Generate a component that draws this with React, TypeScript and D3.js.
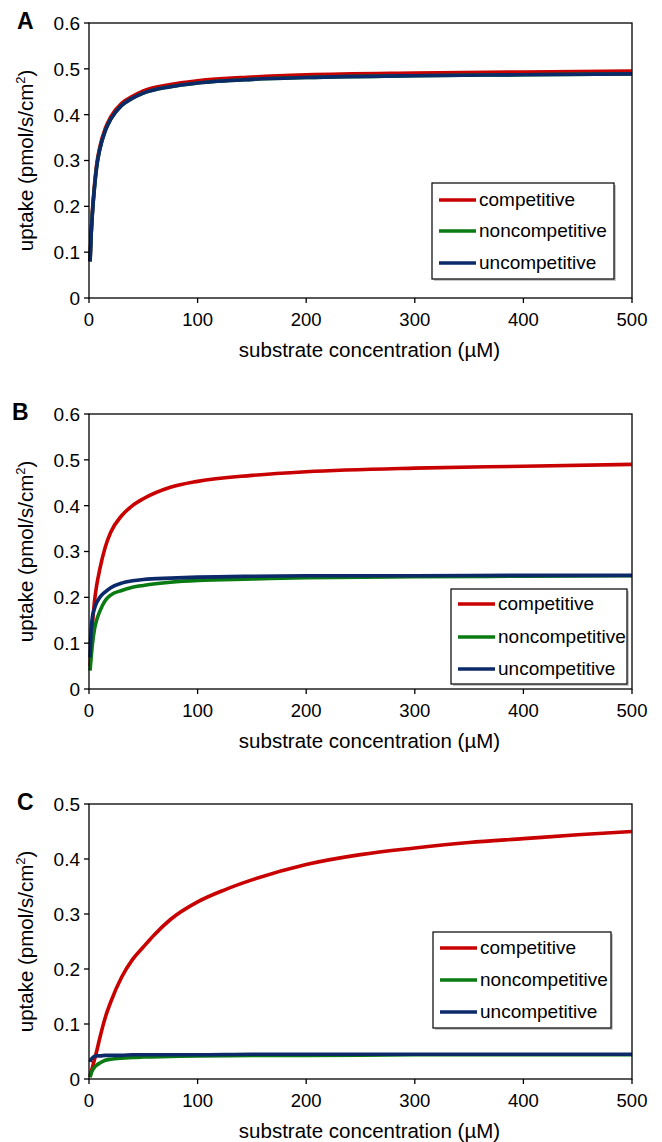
import React from "react";
import * as d3 from "d3";

const seriesNames = ["competitive", "noncompetitive", "uncompetitive"];
const seriesColors = ["#C80000", "#0A7A12", "#0C2A6A"];
const xTicks = [0, 100, 200, 300, 400, 500];

const xA = [1, 2, 3, 5, 7, 10, 15, 20, 30, 40, 50, 75, 100, 150, 200, 300, 400, 500];
const compA = [0.08, 0.14, 0.185, 0.245, 0.29, 0.33, 0.37, 0.395, 0.425, 0.44, 0.452, 0.466, 0.474, 0.482, 0.487, 0.491, 0.493, 0.495];
const nonA = [0.08, 0.138, 0.18, 0.24, 0.285, 0.325, 0.365, 0.39, 0.42, 0.436, 0.447, 0.461, 0.469, 0.477, 0.481, 0.485, 0.487, 0.489];
const uncA = [0.08, 0.14, 0.18, 0.24, 0.285, 0.325, 0.365, 0.39, 0.42, 0.436, 0.447, 0.461, 0.469, 0.477, 0.481, 0.485, 0.487, 0.489];

const xB = [1, 2, 3, 5, 7, 10, 15, 20, 30, 40, 50, 75, 100, 150, 200, 300, 400, 500];
const compB = [0.05, 0.095, 0.135, 0.19, 0.225, 0.262, 0.31, 0.342, 0.378, 0.4, 0.415, 0.44, 0.453, 0.466, 0.474, 0.482, 0.486, 0.49];
const nonB = [0.04, 0.07, 0.095, 0.13, 0.15, 0.17, 0.193, 0.205, 0.215, 0.222, 0.226, 0.233, 0.237, 0.24, 0.243, 0.245, 0.246, 0.247];
const uncB = [0.069, 0.13, 0.155, 0.175, 0.188, 0.2, 0.212, 0.221, 0.231, 0.236, 0.239, 0.242, 0.244, 0.246, 0.247, 0.247, 0.248, 0.248];

const xCcomp = [1, 3, 5, 7, 10, 15, 20, 30, 40, 50, 60, 75, 100, 125, 150, 200, 250, 300, 350, 400, 450, 500];
const compC = [0.005, 0.02, 0.035, 0.05, 0.075, 0.112, 0.14, 0.185, 0.217, 0.24, 0.262, 0.29, 0.322, 0.344, 0.362, 0.39, 0.408, 0.42, 0.43, 0.437, 0.444, 0.45];
const xC = [1, 2, 3, 5, 7, 10, 15, 20, 30, 40, 50, 75, 100, 150, 200, 300, 400, 500];
const nonC = [0.003, 0.01, 0.015, 0.021, 0.025, 0.029, 0.034, 0.036, 0.038, 0.039, 0.04, 0.041, 0.042, 0.043, 0.043, 0.044, 0.044, 0.044];
const uncC = [0.031, 0.036, 0.038, 0.041, 0.042, 0.042, 0.043, 0.043, 0.043, 0.044, 0.044, 0.044, 0.044, 0.045, 0.045, 0.045, 0.045, 0.045];

const yTicksAB = [0, 0.1, 0.2, 0.3, 0.4, 0.5, 0.6];
const yTicksC = [0, 0.1, 0.2, 0.3, 0.4, 0.5];

const FONT = "'Liberation Sans', Arial, sans-serif";

type Series = { x: number[]; y: number[] };

type PanelProps = {
  label: string;
  top: number;
  yMax: number;
  yTicks: number[];
  series: Series[];
  legend: { x: number; y: number; w: number; h: number; rows: number[] };
};

const LEFT = 89;
const RIGHT = 632;
const H = 275;

function Panel({ label, top, yMax, yTicks, series, legend }: PanelProps) {
  const x = d3.scaleLinear().domain([0, 500]).range([LEFT, RIGHT]);
  const y = d3.scaleLinear().domain([0, yMax]).range([top + H, top]);
  const bottom = top + H;
  const line = d3
    .line<[number, number]>()
    .x((d) => x(d[0]))
    .y((d) => y(d[1]))
    .curve(d3.curveMonotoneX);
  const cy = top + H / 2;
  return (
    <g fontFamily={FONT}>
      <text x={label === "B" ? 12 : 17} y={top + 6} fontSize={23} fontWeight="bold" fill="#000">
        {label}
      </text>
      {series.map((s, i) => (
        <path
          key={i}
          d={line(s.x.map((v, j) => [v, s.y[j]] as [number, number])) || ""}
          fill="none"
          stroke={seriesColors[i]}
          strokeWidth={3.6}
          strokeLinejoin="round"
        />
      ))}
      <rect x={LEFT} y={top} width={RIGHT - LEFT} height={H} fill="none" stroke="#000" strokeWidth={1.3} />
      {yTicks.map((t) => (
        <g key={t}>
          <line x1={LEFT - 5} x2={LEFT} y1={y(t)} y2={y(t)} stroke="#000" strokeWidth={1.3} />
          <text x={LEFT - 9} y={y(t)} dy="0.36em" textAnchor="end" fontSize={19} fill="#000">
            {t === 0 ? "0" : d3.format(".1f")(t)}
          </text>
        </g>
      ))}
      {xTicks.map((t) => (
        <g key={t}>
          <line x1={x(t)} x2={x(t)} y1={bottom} y2={bottom + 5} stroke="#000" strokeWidth={1.3} />
          <text x={x(t)} y={bottom + 28} textAnchor="middle" fontSize={18.5} fill="#000">
            {t}
          </text>
        </g>
      ))}
      <text x={(LEFT + RIGHT) / 2 + 9} y={bottom + 59} textAnchor="middle" fontSize={20.5} fill="#000">
        substrate concentration (µM)
      </text>
      <text
        transform={`translate(33,${cy}) rotate(-90)`}
        textAnchor="middle"
        fontSize={20.5}
        fill="#000"
      >
        uptake (pmol/s/cm
        <tspan fontSize={13} dy={-8}>2</tspan>
        <tspan dy={8}>)</tspan>
      </text>
      <rect x={legend.x + 2} y={legend.y + 2} width={legend.w} height={legend.h} fill="#c8c8c8" />
      <rect x={legend.x} y={legend.y} width={legend.w} height={legend.h} fill="#fff" stroke="#000" strokeWidth={1.2} />
      {seriesNames.map((n, i) => (
        <g key={n}>
          <line
            x1={legend.x + 7}
            x2={legend.x + 44}
            y1={legend.rows[i]}
            y2={legend.rows[i]}
            stroke={seriesColors[i]}
            strokeWidth={3.4}
          />
          <text x={legend.x + 47} y={legend.rows[i]} dy="0.33em" fontSize={19} fill="#000">
            {n}
          </text>
        </g>
      ))}
    </g>
  );
}

export default function App() {
  return (
    <svg
      width={662}
      height={1142}
      style={{ position: "absolute", left: 0, top: 0, background: "#fff" }}
    >
      <rect width={662} height={1142} fill="#fff" />
      <Panel
        label="A"
        top={23}
        yMax={0.6}
        yTicks={yTicksAB}
        series={[
          { x: xA, y: compA },
          { x: xA, y: nonA },
          { x: xA, y: uncA },
        ]}
        legend={{ x: 432, y: 183, w: 182, h: 96, rows: [200, 231, 263] }}
      />
      <Panel
        label="B"
        top={414}
        yMax={0.6}
        yTicks={yTicksAB}
        series={[
          { x: xB, y: compB },
          { x: xB, y: nonB },
          { x: xB, y: uncB },
        ]}
        legend={{ x: 451, y: 589, w: 176, h: 95, rows: [604, 637, 669] }}
      />
      <Panel
        label="C"
        top={804}
        yMax={0.5}
        yTicks={yTicksC}
        series={[
          { x: xCcomp, y: compC },
          { x: xC, y: nonC },
          { x: xC, y: uncC },
        ]}
        legend={{ x: 433, y: 932, w: 178, h: 96, rows: [948, 980, 1012] }}
      />
    </svg>
  );
}
